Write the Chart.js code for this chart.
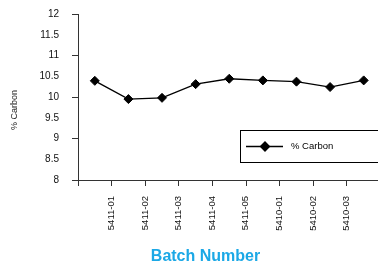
<!DOCTYPE html>
<html lang="en">

<head>
    <meta charset="UTF-8">
    <title>% Carbon by Batch</title>
    <script src="https://cdn.jsdelivr.net/npm/chart.js"></script>
    <style>
        body { margin: 0; background: #fff; }
        #wrap { width: 378px; height: 264px; overflow: hidden; }
    </style>
</head>

<body>
    <div id="wrap">
        <canvas id="myChart" width="386" height="264"></canvas>
    </div>

    <script>
        // batch labels sit on the tick marks between points, first boundary has none
        var batchLabels = ['', '5411-01', '5411-02', '5411-03', '5411-04', '5411-05', '5410-01', '5410-02', '5410-03'];
        var carbonValues = [10.39, 9.95, 9.98, 10.31, 10.44, 10.40, 10.37, 10.24, 10.40];
        var yMin = 8, yMax = 12, yStep = 0.5;
        var seriesName = '% Carbon';
        var xTitle = 'Batch Number';
        var yTitle = '% Carbon';
        var FONT = '"Liberation Sans", Arial, sans-serif';

        // legend box and axis titles, placed like the Excel original
        var extras = {
            id: 'extras',
            afterDraw: function (chart) {
                var ctx = chart.ctx;
                var a = chart.chartArea;
                var x = a.left + 162, y = a.top + 116, h = 32;
                ctx.save();
                ctx.strokeStyle = '#000';
                ctx.lineWidth = 1;
                ctx.strokeRect(x + 0.5, y + 0.5, 300, h);
                var cy = y + h / 2 + 0.5;
                ctx.beginPath();
                ctx.moveTo(x + 6, cy);
                ctx.lineTo(x + 43, cy);
                ctx.lineWidth = 1.3;
                ctx.stroke();
                Chart.helpers.drawPoint(ctx, { pointStyle: 'rectRot', radius: 4.5, borderWidth: 1 }, x + 25, cy);
                ctx.fillStyle = '#000';
                ctx.fill();
                ctx.font = '9.5px ' + FONT;
                ctx.textBaseline = 'middle';
                ctx.fillText(seriesName, x + 51, cy);

                // x title
                ctx.font = 'bold 16px ' + FONT;
                ctx.fillStyle = '#1ba8e6';
                ctx.textAlign = 'center';
                ctx.fillText(xTitle, 205.5, 257);

                // y title
                ctx.translate(15, 110);
                ctx.rotate(-Math.PI / 2);
                ctx.font = '9px ' + FONT;
                ctx.fillStyle = '#222';
                ctx.fillText(yTitle, 0, 0);
                ctx.restore();
            }
        };

        var ctx = document.getElementById('myChart').getContext('2d');
        var myChart = new Chart(ctx, {
            type: 'line',
            data: {
                labels: batchLabels,
                datasets: [{
                    label: seriesName,
                    data: carbonValues,
                    borderColor: '#000',
                    borderWidth: 1.3,
                    pointStyle: 'rectRot',
                    pointRadius: 4.5,
                    pointBackgroundColor: '#000',
                    pointBorderColor: '#000',
                    pointBorderWidth: 1,
                    tension: 0
                }]
            },
            options: {
                responsive: false,
                animation: false,
                layout: { padding: { top: 14, right: 0, left: 0, bottom: 0 } },
                plugins: {
                    legend: { display: false },
                    tooltip: { enabled: false }
                },
                scales: {
                    x: {
                        offset: true,
                        afterFit: function (scale) { scale.height = 84; },
                        grid: {
                            offset: true,
                            drawOnChartArea: false,
                            tickLength: 6,
                            color: '#333'
                        },
                        border: { color: '#333', width: 1 },
                        ticks: {
                            autoSkip: false,
                            minRotation: 90,
                            maxRotation: 90,
                            labelOffset: -17,
                            padding: 10,
                            color: '#111',
                            font: { family: FONT, size: 9.5 }
                        }
                    },
                    y: {
                        min: yMin,
                        max: yMax,
                        afterFit: function (scale) {
                            scale.width = 78;
                            // tick padding would otherwise push the plot top down
                            scale.paddingTop = 6;
                            scale.paddingBottom = 6;
                        },
                        grid: {
                            drawOnChartArea: false,
                            tickLength: 6,
                            color: function (c) { return c.tick && c.tick.value % 1 === 0 ? '#333' : 'rgba(0,0,0,0)'; }
                        },
                        border: { color: '#333', width: 1 },
                        ticks: {
                            stepSize: yStep,
                            padding: 13,
                            color: '#111',
                            font: { family: FONT, size: 10 },
                            callback: function (v) { return String(v); }
                        }
                    }
                }
            },
            plugins: [extras]
        });
    </script>
</body>

</html>
